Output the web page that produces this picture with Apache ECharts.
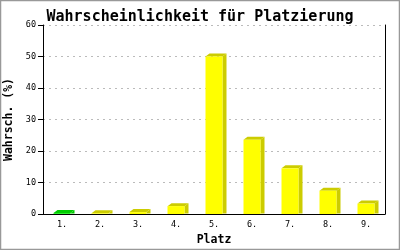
<!DOCTYPE html>
<html><head><meta charset="utf-8">
<script src="https://cdn.jsdelivr.net/npm/echarts@6/dist/echarts.min.js"></script>
<style>html,body{margin:0;padding:0;background:#fff}#c{width:400px;height:250px}</style>
</head><body><div id="c"></div>
<script>
const categories = ['1.','2.','3.','4.','5.','6.','7.','8.','9.'];
const values = [0.3, 0.2, 0.6, 2.5, 50, 23.6, 14.5, 7.4, 3.3];
const frontColors = ['#22ee22','#ffff00','#ffff00','#ffff00','#ffff00','#ffff00','#ffff00','#ffff00','#ffff00'];
const shadeColors = ['#00cc00','#cccc00','#cccc00','#cccc00','#cccc00','#cccc00','#cccc00','#cccc00','#cccc00'];
const yTicks = [0,10,20,30,40,50,60];
const mono = 'DejaVu Sans Mono';
const chart = echarts.init(document.getElementById('c'));
chart.setOption({
  backgroundColor:'#fff',
  animation:false,
  title:{text:'Wahrscheinlichkeit für Platzierung',left:'center',top:5,
    textStyle:{fontFamily:mono,fontWeight:'bold',fontSize:15,color:'#000'}},
  grid:{left:43,right:15,top:25,bottom:36,containLabel:false,outerBoundsMode:'none'},
  xAxis:{type:'category',data:categories,name:'Platz',nameLocation:'middle',nameGap:20,
    nameTextStyle:{fontFamily:mono,fontWeight:'bold',fontSize:11.5,color:'#000'},
    axisLine:{lineStyle:{color:'#000',width:1}},axisTick:{show:false},
    axisLabel:{fontFamily:mono,fontSize:8.5,color:'#000',margin:6}},
  yAxis:[{type:'value',min:yTicks[0],max:yTicks[yTicks.length-1],interval:10,
    name:'Wahrsch. (%)',nameLocation:'middle',nameGap:27,
    nameTextStyle:{fontFamily:mono,fontWeight:'bold',fontSize:11.5,color:'#000'},
    axisLine:{show:true,lineStyle:{color:'#000'}},
    axisTick:{show:true,length:5,lineStyle:{color:'#000'}},
    axisLabel:{fontFamily:mono,fontSize:8.5,color:'#000',margin:7},
    splitLine:{show:true,lineStyle:{color:'#bbbbbb',type:[2,4]}}},
   {type:'value',position:'right',min:0,max:60,interval:10,
    axisLine:{show:true,lineStyle:{color:'#000'}},axisTick:{show:false},axisLabel:{show:false},splitLine:{show:false}}],
  series:[{type:'custom',
    data:values.map((v,i)=>[i,v]),
    renderItem:function(params,api){
      const i=api.value(0), v=api.value(1);
      const top=api.coord([i,v]), base=api.coord([i,0]);
      const hw=8.5, dx=4, dy=3;
      const x0=top[0]-hw, x1=top[0]+hw, yv=top[1], y0=base[1];
      return {type:'group',children:[
        {type:'polygon',shape:{points:[[x1,yv],[x1+dx,yv-dy],[x1+dx,y0-0.5],[x1,y0-0.5]]},style:{fill:shadeColors[i]}},
        {type:'polygon',shape:{points:[[x0,yv],[x0+dx,yv-dy],[x1+dx,yv-dy],[x1,yv]]},style:{fill:shadeColors[i]}},
        {type:'rect',shape:{x:x0,y:yv,width:x1-x0,height:y0-yv},style:{fill:frontColors[i]}}
      ]};
    }}],
  graphic:[{type:'rect',shape:{x:0.5,y:0.5,width:399,height:249},style:{fill:null,stroke:'#999',lineWidth:1.5},silent:true}]
});
</script></body></html>
